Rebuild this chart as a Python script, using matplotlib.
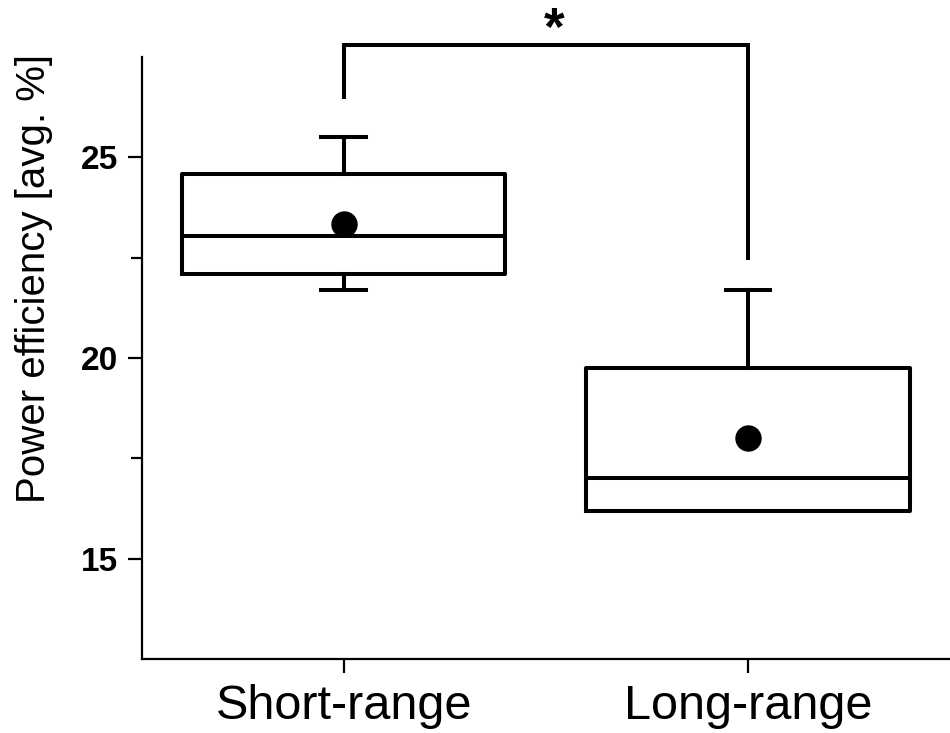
import numpy as np
import matplotlib.pyplot as plt

plt.rcParams['font.family'] = ['Liberation Sans', 'DejaVu Sans']

groups = ['Short-range', 'Long-range']
q1 = [22.1, 16.2]
med = [23.05, 17.0]
q3 = [24.6, 19.75]
whislo = [21.7, 16.2]
whishi = [25.5, 21.7]
means = [23.35, 18.0]

# significance bracket
br_top = 27.8
br_left = 26.5
br_right = 22.5
star_y = 27.8

stats = []
for i in range(len(groups)):
    stats.append(dict(label=groups[i], q1=q1[i], med=med[i], q3=q3[i],
                      whislo=whislo[i], whishi=whishi[i], mean=means[i], fliers=[]))

fig = plt.figure(figsize=(9.5, 7.33), dpi=100)
ax = fig.add_axes([0.149, 0.101, 0.851, 0.821])

lw = 2.9
bp = ax.bxp(stats, positions=[1, 2], widths=0.8, showmeans=True, showfliers=False,
            boxprops=dict(color='black', linewidth=lw),
            medianprops=dict(color='black', linewidth=lw),
            whiskerprops=dict(color='black', linewidth=lw),
            capprops=dict(color='black', linewidth=lw),
            capwidths=0.11,
            meanprops=dict(marker='o', markerfacecolor='black', markeredgecolor='black', markersize=18))
# long-range has no lower whisker cap
bp['caps'][2].set_visible(False)

ax.plot([1, 1, 2, 2], [br_left, br_top, br_top, br_right], color='black', lw=lw,
        clip_on=False, solid_joinstyle='miter')
ax.text(1.52, star_y, '*', ha='center', va='baseline', fontsize=38, fontweight='bold',
        clip_on=False)

ax.set_xlim(0.5, 2.5)
ax.set_ylim(12.5, 27.5)
ax.set_yticks([15, 20, 25])
ax.set_yticks([17.5, 22.5], minor=True)
ax.set_xticks([1, 2])
ax.set_xticklabels(groups, fontsize=35)
for lab in ax.get_yticklabels():
    lab.set_fontweight('bold')
    lab.set_fontsize(24)
ax.set_ylabel('Power efficiency [avg. %]', fontsize=29)
ax.yaxis.label.set_verticalalignment('center')
ax.yaxis.set_label_coords(-0.133, 0.633)

ax.spines['top'].set_visible(False)
ax.spines['right'].set_visible(False)
ax.spines['left'].set_linewidth(1.6)
ax.spines['bottom'].set_linewidth(1.6)
ax.tick_params(axis='both', which='major', length=10, width=1.6, direction='out')
ax.tick_params(axis='y', which='minor', length=8, width=1.6)
ax.tick_params(axis='y', pad=7)
ax.tick_params(axis='x', pad=8)

fig.savefig('out.png', dpi=100)
